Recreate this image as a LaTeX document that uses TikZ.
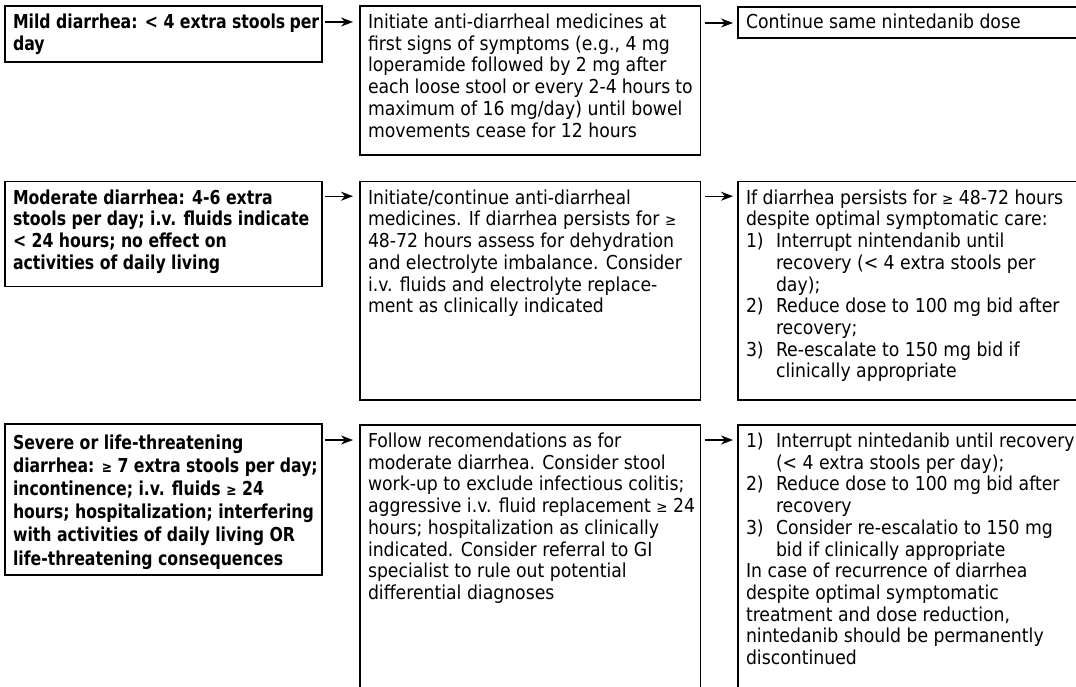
\documentclass[tikz,border=0pt]{standalone}
\usepackage{fontspec}
\setmainfont{DejaVu Sans Condensed}[BoldFeatures={FakeStretch=0.91}]
\usetikzlibrary{arrows.meta}
\newcommand{\bt}[4][21.7]{\parbox[c][#3][t]{#2}{\fontsize{19.2}{#1}\selectfont\parskip=0pt\rightskip=0pt plus 1fil\relax #4}}
\newcommand{\itm}[2]{\par\hangindent=30pt\hangafter=1\noindent\makebox[30pt][l]{#1}#2}
\newcommand{\gsym}{{\fontsize{15}{15}\selectfont ≥}}
\newcommand{\fitline}[1]{\makebox[0pt][l]{#1}}
\tikzset{
  box/.style={draw, line width=1.2pt, anchor=north west, inner xsep=8pt, inner ysep=8pt, outer sep=0pt},
  arr/.style={line width=1.2pt, -{Stealth[length=12pt,width=9pt]}}
}
\begin{document}
\begin{tikzpicture}[x=1pt,y=-1pt]
\path[use as bounding box, clip] (0,0) rectangle (1076,686);
% row 1
\node[box] (L1) at (5,6) {\bt{301pt}{40pt}{\bfseries \fitline{Mild diarrhea: < 4 extra stools\hspace{0.22em}per}\newline day}};
\node[box] (M1) at (360,6) {\bt{324.7pt}{133pt}{Initiate anti-diarrheal medicines at\newline first signs of symptoms (e.g., 4 mg\newline loperamide followed by 2 mg after\newline each loose stool or every 2-4 hours to\newline maximum of 16 mg/day) until bowel\newline movements cease for 12 hours}};
\node[box, inner ysep=7pt] (R1) at (738,7) {\bt{341pt}{17pt}{Continue same nintedanib dose}};
% row 2
\node[box] (L2) at (5,181.7) {\bt{301pt}{89pt}{\bfseries Moderate diarrhea: 4-6 extra\newline \fitline{stools per day; i.v. fluids indicate}\newline < 24 hours; no effect on\newline activities of daily living}};
\node[box] (M2) at (360,181.7) {\bt{324.7pt}{202.3pt}{Initiate/continue anti-diarrheal\newline \fitline{medicines. If diarrhea persists for \gsym}\newline 48-72 hours assess for dehydration\newline and electrolyte imbalance. Consider\newline i.v. fluids and electrolyte replace-\newline ment as clinically indicated}};
\node[box] (R2) at (738,181.7) {\bt{341pt}{202.3pt}{If diarrhea persists for \gsym{} 48-72 hours\newline despite optimal symptomatic care:
\itm{1)}{Interrupt nintendanib until\newline recovery (< 4 extra stools per\newline day);}
\itm{2)}{Reduce dose to 100 mg bid after\newline recovery;}
\itm{3)}{Re-escalate to 150 mg bid if\newline clinically appropriate}}};
% row 3
\node[box, inner ysep=11pt] (L3) at (5,424) {\bt[23.1]{301pt}{129pt}{\bfseries Severe or life-threatening\newline \fitline{diarrhea: \gsym{} 7 extra stools per day;}\newline incontinence; i.v. fluids \gsym{} 24\newline \fitline{hours; hospitalization; interfering}\newline with activities of daily living OR\newline life-threatening consequences}};
\node[box] (M3) at (360,425) {\bt{324.7pt}{270pt}{Follow recomendations as for\newline moderate diarrhea. Consider stool\newline \fitline{work-up to exclude infectious colitis;}\newline \fitline{aggressive i.v. fluid replacement \gsym{} 24}\newline hours; hospitalization as clinically\newline indicated. Consider referral to GI\newline specialist to rule out potential\newline differential diagnoses}};
\node[box] (R3) at (738,425) {\bt{341pt}{270pt}{\itm{1)}{Interrupt nintedanib until recovery\newline (< 4 extra stools per day);}
\itm{2)}{Reduce dose to 100 mg bid after\newline recovery}
\itm{3)}{Consider re-escalatio to 150 mg\newline bid if clinically appropriate}
\par\noindent In case of recurrence of diarrhea\newline despite optimal symptomatic\newline treatment and dose reduction,\newline nintedanib should be permanently\newline discontinued}};
% arrows
\draw[arr] ([xshift=3pt,yshift=-16pt]L1.north east) -- ([xshift=-7pt,yshift=-16pt]M1.north west);
\draw[arr] ([xshift=4pt,yshift=-17pt]M1.north east) -- ([xshift=-5pt,yshift=-16pt]R1.north west);
\draw[arr] ([xshift=3pt,yshift=-14.5pt]L2.north east) -- ([xshift=-7pt,yshift=-14.5pt]M2.north west);
\draw[arr] ([xshift=4pt,yshift=-14.5pt]M2.north east) -- ([xshift=-5pt,yshift=-14.5pt]R2.north west);
\draw[arr] ([xshift=3pt,yshift=-16pt]L3.north east) -- ([xshift=-7pt,yshift=-15pt]M3.north west);
\draw[arr] ([xshift=4pt,yshift=-15pt]M3.north east) -- ([xshift=-5pt,yshift=-15pt]R3.north west);
\end{tikzpicture}
\end{document}
